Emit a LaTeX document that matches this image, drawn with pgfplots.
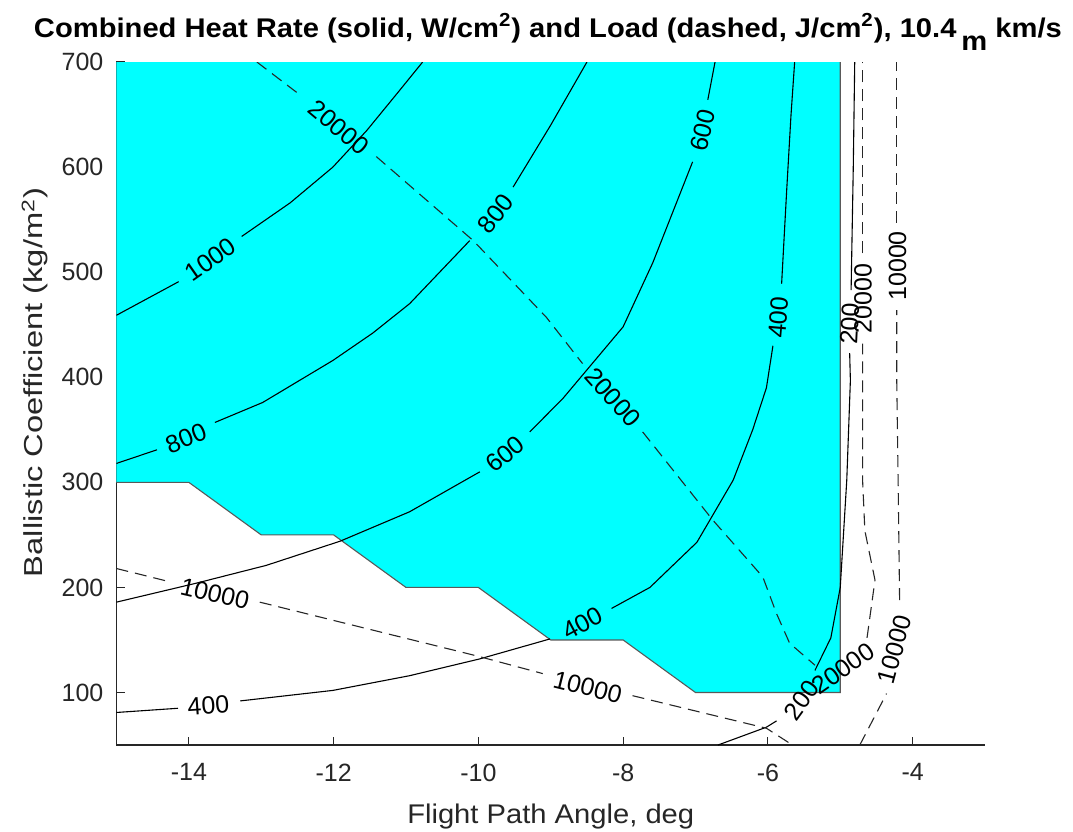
\documentclass[border=0pt]{standalone}
\usepackage{fontspec}
\setmainfont{Liberation Sans}
\usepackage{pgfplots}
\pgfplotsset{compat=1.18}
\definecolor{axgray}{gray}{0.15}
\definecolor{mcyan}{RGB}{0,255,255}
\pgfplotsset{
  solidc/.style={black, line width=0.55pt, forget plot},
  dashc/.style={black!85, line width=0.55pt, dash pattern=on 6pt off 3.5pt, forget plot},
}
\tikzset{clab/.style={font=\fontsize{12.5}{15}\selectfont, inner sep=0pt, text=black}}
\begin{document}
\begin{tikzpicture}
\begin{axis}[
  scale only axis, width=434.25pt, height=341.5pt,
  xmin=-15, xmax=-3, ymin=50, ymax=700,
  axis x line*=bottom, axis y line*=left,
  axis line style={axgray, line width=0.6pt},
  xtick={-14,-12,...,-4}, ytick={100,200,...,700},
  tick align=inside, major tick length=4.25pt,
  tick style={axgray, line width=0.6pt},
  /pgf/number format/assume math mode=true,
  ticklabel style={font=\fontsize{12.5}{15}\selectfont, text=axgray},
  xticklabel style={yshift=-5.8pt},
  yticklabel style={xshift=-3pt},
  xlabel={\scalebox{1.08}[1]{Flight Path Angle, deg}},
  ylabel={\scalebox{1.257}[1]{Ballistic Coefficient (kg/m\textsuperscript{2})}},
  label style={text=axgray},
  xlabel style={font=\fontsize{13.5}{16}\selectfont, at={(axis description cs:0.5,-0.1142)}, anchor=base},
  ylabel style={font=\fontsize{13}{16}\selectfont, at={(axis description cs:-0.0846,0.531)}, anchor=base},
  every axis title shift=0pt,
  title={\scalebox{1.08}[1]{Combined Heat Rate (solid, W/cm\textsuperscript{2}) and Load (dashed, J/cm\textsuperscript{2}), 10.4\,\raisebox{-6.5pt}{m} km/s}},
  title style={font=\bfseries\fontsize{13.5}{16}\selectfont, at={(axis description cs:0.4968,1.0366)}, anchor=base},
]
% feasible region
\addplot[fill=mcyan, draw=none, forget plot] coordinates {(-15,700) (-5,700) (-5,100) (-7,100) (-8,150) (-9,150) (-10,200) (-11,200) (-12,250) (-13,250) (-14,300) (-15,300)} -- cycle;
\addplot[draw=black!65, line width=0.55pt, forget plot] coordinates {(-15,300) (-14,300) (-13,250) (-12,250) (-11,200) (-10,200) (-9,150) (-8,150) (-7,100) (-5,100) (-5,700)};

% heat rate 1000
\addplot[solidc] coordinates {(-15,459) (-14.14,491)};
\addplot[solidc] coordinates {(-13.27,534) (-12.6,566) (-12.01,600) (-11.54,635) (-11.1,672) (-10.77,700)};
% heat rate 800
\addplot[solidc] coordinates {(-15,318) (-14.44,331)};
\addplot[solidc] coordinates {(-13.64,357) (-12.98,376) (-12.01,416) (-11.46,442) (-10.95,470) (-10.12,530)};
\addplot[solidc] coordinates {(-9.52,581) (-9.0,640) (-8.5,700)};
% heat rate 600
\addplot[solidc] coordinates {(-15,186) (-13.9,204) (-12.93,221) (-11.91,244) (-10.95,272) (-9.98,310)};
\addplot[solidc] coordinates {(-9.29,348) (-8.83,380) (-8.0,448) (-7.59,509) (-7.04,605)};
\addplot[solidc] coordinates {(-6.83,664) (-6.73,700)};
% heat rate 400
\addplot[solidc] coordinates {(-15,81) (-14.15,85)};
\addplot[solidc] coordinates {(-13.29,92) (-12.01,102) (-10.95,116) (-9.98,132) (-9.01,151)};
\addplot[solidc] coordinates {(-8.16,180) (-7.63,200) (-6.98,243) (-6.48,302) (-6.21,350) (-6.02,390) (-5.93,430)};
\addplot[solidc] coordinates {(-5.81,489) (-5.74,578) (-5.68,650) (-5.63,700)};
% heat rate 200
\addplot[solidc] coordinates {(-6.69,50) (-6.02,67) (-5.88,73)};
\addplot[solidc] coordinates {(-5.35,121) (-5.13,152) (-5.0,200) (-4.91,302) (-4.86,397) (-4.87,423)};
\addplot[solidc] coordinates {(-4.85,483) (-4.82,600) (-4.8,700)};

% heat load 20000
\addplot[dashc] coordinates {(-13.06,700) (-12.47,669)};
\addplot[dashc] coordinates {(-11.41,610) (-10.07,530) (-9.06,457) (-8.56,413)};
\addplot[dashc] coordinates {(-7.73,348) (-6.76,264) (-6.07,210) (-5.88,175) (-5.7,147) (-5.35,126)};
\addplot[dashc] coordinates {(-4.63,152) (-4.52,207) (-4.66,254) (-4.69,300) (-4.69,432)};
\addplot[dashc] coordinates {(-4.69,518) (-4.69,700)};
% heat load 10000
\addplot[dashc] coordinates {(-15,218) (-14.24,205)};
\addplot[dashc] coordinates {(-13.02,186) (-10.03,135) (-9.11,118)};
\addplot[dashc] coordinates {(-7.87,97) (-6.02,66) (-5.66,50)};
\addplot[dashc] coordinates {(-4.73,50) (-4.36,99)};
\addplot[dashc] coordinates {(-4.18,188) (-4.2,300) (-4.22,400) (-4.22,464)};
\addplot[dashc] coordinates {(-4.22,547) (-4.22,700)};

% contour labels
\node[clab, rotate=35] at (axis cs:-13.70,512) {1000};
\node[clab, rotate=-40] at (axis cs:-11.93,638) {20000};
\node[clab, rotate=52] at (axis cs:-9.76,556) {800};
\node[clab, rotate=22] at (axis cs:-14.04,342) {800};
\node[clab, rotate=39] at (axis cs:-9.63,327) {600};
\node[clab, rotate=76] at (axis cs:-6.90,635) {600};
\node[clab, rotate=-48] at (axis cs:-8.14,381) {20000};
\node[clab, rotate=4] at (axis cs:-13.73,88) {400};
\node[clab, rotate=28] at (axis cs:-8.56,166) {400};
\node[clab, rotate=85] at (axis cs:-5.85,457) {400};
\node[clab, rotate=87] at (axis cs:-4.87,451) {200};
\node[clab, rotate=90] at (axis cs:-4.685,475) {20000};
\node[clab, rotate=90] at (axis cs:-4.21,506) {10000};
\node[clab, rotate=-13] at (axis cs:-13.64,194) {10000};
\node[clab, rotate=-14] at (axis cs:-8.49,105) {10000};
\node[clab, rotate=54] at (axis cs:-5.535,92.6) {200};
\node[clab, rotate=35] at (axis cs:-4.96,122.6) {20000};
\node[clab, rotate=75] at (axis cs:-4.25,141) {10000};

\coordinate (bbBL) at (rel axis cs:-0.1341,-0.1259);
\coordinate (bbTR) at (rel axis cs:1.1013,1.0908);
\end{axis}
\pgfresetboundingbox
\path (bbBL) rectangle (bbTR);
\end{tikzpicture}
\end{document}
